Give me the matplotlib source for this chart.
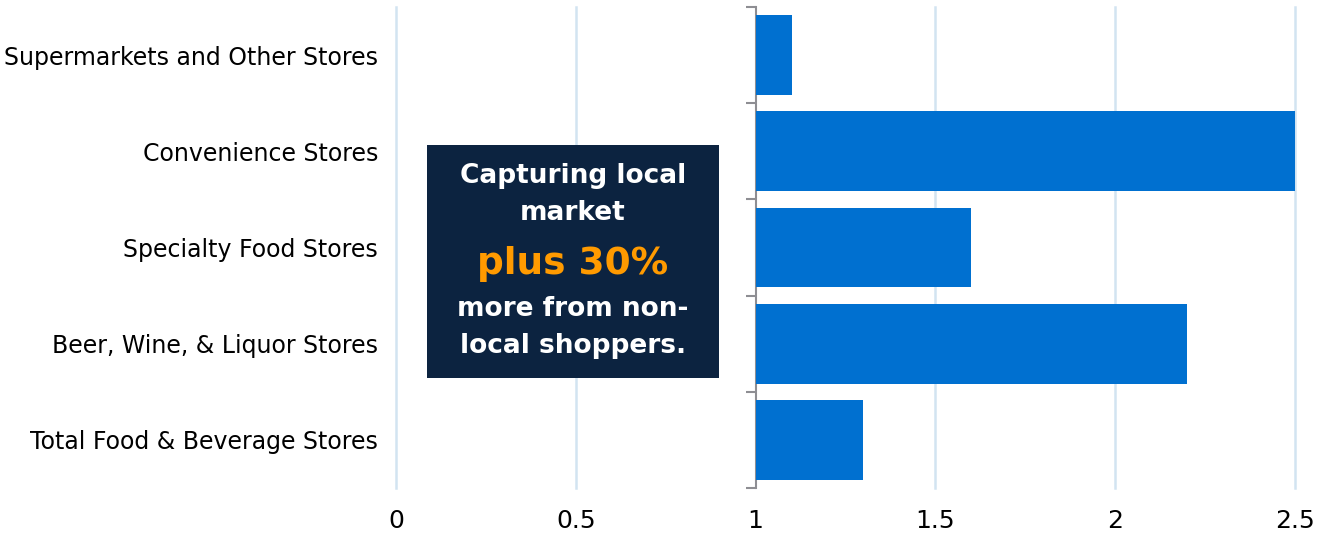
import matplotlib
matplotlib.use("Agg")
import matplotlib.pyplot as plt
from matplotlib.patches import Rectangle

# ----- Data ---------------------------------------------------------------
categories = [
    "Supermarkets and Other Stores",
    "Convenience Stores",
    "Specialty Food Stores",
    "Beer, Wine, & Liquor Stores",
    "Total Food & Beverage Stores",
]
values = [1.1, 2.5, 1.6, 2.2, 1.3]
baseline = 1.0
xticks = [0, 0.5, 1, 1.5, 2, 2.5]
xtick_labels = ["0", "0.5", "1", "1.5", "2", "2.5"]

BAR = "#0070D0"
NAVY = "#0C2340"
ORANGE = "#FF9A00"
GRID = "#D2E4F1"
SPINE = "#8E8E93"

plt.rcParams["font.family"] = ["DejaVu Sans"]

W, H = 1330, 536
fig = plt.figure(figsize=(W / 100, H / 100), dpi=100)
ax = fig.add_axes([396 / W, 1 - 488 / H, (1295 - 396) / W, (488 - 7) / H])

ypos = list(range(len(categories)))
ax.barh(ypos, [v - baseline for v in values], left=baseline, height=0.83,
        color=BAR, zorder=3)

ax.set_xlim(0, 2.5)
ax.set_ylim(len(categories) - 0.5, -0.5)
ax.set_xticks(xticks)
ax.set_xticklabels(xtick_labels)
ax.set_yticks(ypos)
ax.set_yticklabels(categories)
ax.tick_params(axis="x", length=0, pad=15, labelsize=18)
ax.tick_params(axis="y", length=0, pad=13, labelsize=17)
for s in ax.spines.values():
    s.set_visible(False)
for xv in xticks:
    if xv != baseline:
        ax.axvline(xv, color=GRID, lw=1.8, zorder=1, clip_on=False)

# value axis drawn at x = 1 with ticks on category boundaries
sec = ax.secondary_yaxis(location=(baseline - 0) / 2.5)
sec.set_yticks([i - 0.5 for i in range(len(categories) + 1)])
sec.set_yticklabels([])
sec.spines["left"].set_color(SPINE)
sec.spines["left"].set_linewidth(1.5)
sec.tick_params(axis="y", length=7, width=1.5, color=SPINE, direction="out")

# callout box
fig.patches.append(Rectangle((427 / W, 1 - 378 / H), (719 - 427) / W,
                             (378 - 145) / H, transform=fig.transFigure,
                             facecolor=NAVY, edgecolor="none", zorder=5))
cx = 573 / W
lines = [
    ("Capturing local", 176, 19, "white"),
    ("market", 213, 19, "white"),
    ("plus 30%", 264, 27, ORANGE),
    ("more from non-", 309, 19, "white"),
    ("local shoppers.", 346, 19, "white"),
]
for txt, yp, fs, col in lines:
    fig.text(cx, 1 - yp / H, txt, ha="center", va="center", fontsize=fs,
             fontweight="bold", color=col, zorder=6)

fig.savefig("out.png", dpi=100)
